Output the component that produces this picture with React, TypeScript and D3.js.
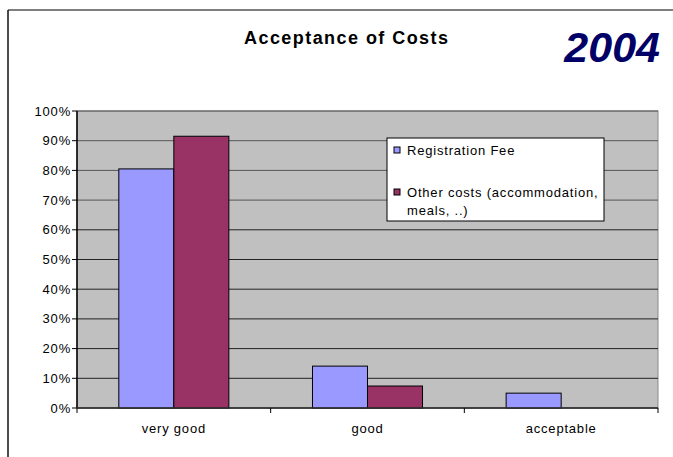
import React from 'react';
import * as d3 from 'd3';

const categories = ['very good', 'good', 'acceptable'];
const seriesNames = ['Registration Fee', 'Other costs (accommodation, meals, ..)'];
const registrationFee = [80.5, 14.1, 5.0];
const otherCosts = [91.5, 7.4, 0];
const yTicks = [0, 10, 20, 30, 40, 50, 60, 70, 80, 90, 100];
const colors = ['#9999ff', '#993366'];

const W = 673, H = 457;
const margin = { left: 77, right: 15, top: 111, bottom: 49 };

export default function App() {
  const innerW = W - margin.left - margin.right;
  const innerH = H - margin.top - margin.bottom;
  const x = d3.scaleBand().domain(categories).range([0, innerW]);
  const x1 = d3.scaleBand().domain(['0', '1']).range([0, x.bandwidth()]).paddingOuter(0.76).paddingInner(0);
  const y = d3.scaleLinear().domain([0, 100]).range([innerH, 0]);
  const series = [registrationFee, otherCosts];
  const font = 'Arial, "Liberation Sans", sans-serif';
  const ls = 0.8;

  return (
    <svg width={W} height={H} style={{ position: 'absolute', left: 0, top: 0 }} fontFamily={font}>
      <rect x={0} y={0} width={W} height={H} fill="white" />
      <line x1={8} y1={10} x2={W} y2={10} stroke="#555" strokeWidth={1.5} />
      <line x1={8} y1={10} x2={8} y2={H} stroke="#111" strokeWidth={1.5} />
      <text x={346} y={44} textAnchor="middle" fontWeight="bold" fontSize={18} textLength={204} lengthAdjust="spacing">Acceptance of Costs</text>
      <text x={660} y={62} textAnchor="end" fontWeight="bold" fontStyle="italic" fontSize={43} fill="#000066">2004</text>
      <g transform={`translate(${margin.left},${margin.top})`}>
        <rect x={0} y={0} width={innerW} height={innerH} fill="#c0c0c0" stroke="#8a8a8a" />
        {yTicks.map((t, i) => (
          <g key={i}>
            <line x1={0} x2={innerW} y1={y(t)} y2={y(t)} stroke={t >= 70 ? '#555' : '#222'} strokeWidth={1} />
            <line x1={-5} x2={0} y1={y(t)} y2={y(t)} stroke="#000" />
            <text x={-6} y={y(t) + 4.5} textAnchor="end" fontSize={13} letterSpacing={ls}>{t}%</text>
          </g>
        ))}
        {categories.map((c, ci) =>
          series.map((s, si) => s[ci] > 0 ? (
            <rect key={`${ci}-${si}`} x={(x(c) as number) + (x1(String(si)) as number)} y={y(s[ci])}
              width={x1.bandwidth()} height={innerH - y(s[ci])} fill={colors[si]} stroke="#000" strokeWidth={1} />
          ) : null)
        )}
        <line x1={0} x2={0} y1={0} y2={innerH} stroke="#000" strokeWidth={1.5} />
        <line x1={0} x2={innerW} y1={innerH} y2={innerH} stroke="#333" strokeWidth={1.5} />
        {categories.map((c, i) => (
          <g key={c}>
            <line x1={(x(c) as number) + x.bandwidth()} x2={(x(c) as number) + x.bandwidth()} y1={innerH} y2={innerH + 5} stroke="#000" />
            <text x={(x(c) as number) + x.bandwidth() / 2} y={innerH + 25} textAnchor="middle" fontSize={13} letterSpacing={ls}>{c}</text>
          </g>
        ))}
        <line x1={0} x2={0} y1={innerH} y2={innerH + 5} stroke="#000" />
      </g>
      <g transform="translate(387,138)">
        <rect x={0} y={0} width={217} height={83} fill="white" stroke="#000" />
        <rect x={7} y={9} width={6} height={6} fill={colors[0]} stroke="#000" />
        <text x={20} y={17} fontSize={13} letterSpacing={ls}>{seriesNames[0]}</text>
        <rect x={7} y={51} width={6} height={6} fill={colors[1]} stroke="#000" />
        <text x={20} y={59} fontSize={13} letterSpacing={ls}>Other costs (accommodation,</text>
        <text x={20} y={77} fontSize={13} letterSpacing={ls}>meals, ..)</text>
      </g>
    </svg>
  );
}
